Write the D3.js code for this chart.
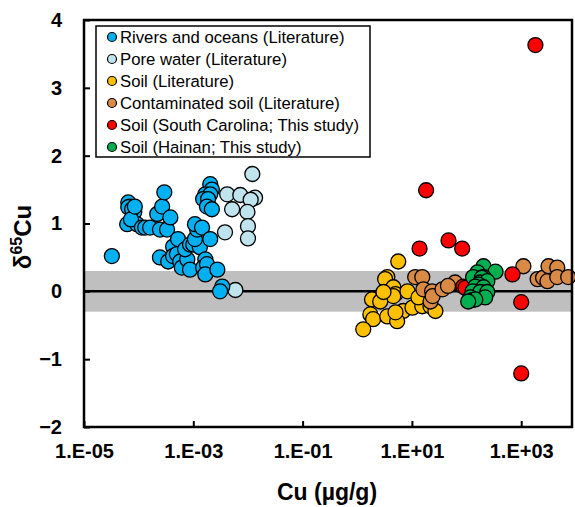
<!DOCTYPE html>
<html>
<head>
<meta charset="utf-8">
<script src="https://cdnjs.cloudflare.com/ajax/libs/d3/7.8.5/d3.min.js"></script>
<style>
  body { margin: 0; background: #fff; font-family: Arial, "Liberation Sans", sans-serif; }
  .tick text { font: bold 20px Arial, "Liberation Sans", sans-serif; fill: #000; }
  .legend text { font: 16.7px Arial, "Liberation Sans", sans-serif; }
</style>
</head>
<body>
<script>
// log10(Cu) and d65Cu
var poreWater = [[-1.92,1.73],[-2.38,1.43],[-2.14,1.42],[-1.87,1.38],[-1.95,1.35],[-2.29,1.21],
  [-2.01,1.17],[-2.00,0.96],[-2.42,0.87],[-2.00,0.78],[-2.23,0.02]];
var rivers = [[-4.49,0.52],[-4.19,1.31],[-4.16,1.25],[-4.08,1.17],[-4.19,1.24],[-4.12,1.21],[-4.21,0.99],
  [-4.03,0.99],[-4.14,1.06],[-4.07,1.25],[-3.94,0.94],[-3.88,0.94],[-3.79,0.94],[-3.66,1.14],[-3.57,1.25],
  [-3.53,1.46],[-3.61,0.91],[-3.48,0.91],[-3.42,1.09],[-3.61,0.50],[-3.46,0.44],[-3.37,0.66],[-3.37,0.52],
  [-3.30,0.55],[-3.28,0.77],[-3.24,0.44],[-3.21,0.35],[-3.11,0.47],[-3.15,0.62],[-3.06,0.69],[-3.06,0.32],
  [-3.00,0.69],[-2.88,0.65],[-2.97,0.77],[-2.93,0.91],[-2.97,0.99],[-2.84,0.94],[-2.69,0.77],[-2.78,0.47],
  [-2.82,0.35],[-2.75,0.40],[-2.78,0.25],[-2.56,0.32],[-2.47,0.07],[-2.51,0.00],[-2.69,1.58],[-2.66,1.50],
  [-2.78,1.43],[-2.69,1.43],[-2.82,1.36],[-2.73,1.36],[-2.75,1.25],[-2.66,1.21]];
var soilLit = [[0.75,0.44],[0.55,0.21],[0.51,0.18],[0.66,0.06],[0.27,-0.12],[0.48,-0.07],[0.70,-0.04],
  [0.66,-0.07],[0.92,0.00],[0.84,-0.29],[1.01,-0.24],[1.19,-0.22],[1.12,-0.09],[1.34,-0.22],[1.43,-0.29],
  [0.24,-0.34],[0.29,-0.41],[0.55,-0.37],[0.73,-0.44],[0.11,-0.56],[0.42,-0.15],[0.48,-0.01],[0.70,-0.31]];
var contaminated = [[1.06,0.21],[1.19,0.21],[1.21,0.03],[1.37,0.00],[1.34,-0.15],[1.38,-0.07],[1.56,0.03],
  [1.79,0.13],[1.66,0.08],[3.04,0.37],[3.30,0.18],[3.40,0.20],[3.48,0.15],[3.50,0.37],[3.66,0.35],[3.66,0.21],[3.86,0.21]];
var southCarolina = [[3.26,3.63],[1.26,1.49],[1.14,0.63],[1.67,0.75],[1.92,0.63],[1.94,0.07],[1.98,0.05],
  [2.84,0.25],[3.00,-0.16],[3.00,-1.21]];
var hainan = [[2.31,0.37],[2.53,0.29],[2.20,0.28],[2.12,0.21],[2.31,0.21],[2.28,0.20],[2.25,0.13],[2.38,0.15],
  [2.22,0.10],[2.16,0.07],[2.31,0.06],[2.11,0.00],[2.25,-0.01],[2.38,-0.01],[2.07,-0.09],[2.34,-0.09],
  [2.10,-0.13],[2.16,-0.12],[2.03,-0.15]];

var legendNames = ["Rivers and oceans (Literature)", "Pore water (Literature)", "Soil (Literature)",
  "Contaminated soil (Literature)", "Soil (South Carolina; This study)", "Soil (Hainan; This study)"];
var legendColors = ["#00b0f0", "#c0e4ee", "#ffc000", "#d98b45", "#ff0000", "#00b050"];
var xTicks = [1e-5, 1e-3, 1e-1, 1e1, 1e3];
var yTicks = [-2, -1, 0, 1, 2, 3, 4];

var W = 575, H = 507;
var margin = {top: 20, right: 3, bottom: 80, left: 84};
var width = W - margin.left - margin.right,
    height = H - margin.top - margin.bottom;

var svg = d3.select("body").append("svg").attr("width", W).attr("height", H);
var g = svg.append("g").attr("transform", "translate(" + margin.left + "," + margin.top + ")");

var x = d3.scaleLog().domain([1e-5, 8500]).range([0, width]);
var y = d3.scaleLinear().domain([-2, 4]).range([height, 0]);

// grey band +/-0.3 and zero line
g.append("rect").attr("x", 0).attr("width", width)
  .attr("y", y(0.3)).attr("height", y(-0.3) - y(0.3)).attr("fill", "#bfbfbf");
g.append("line").attr("x1", 0).attr("x2", width).attr("y1", y(0)).attr("y2", y(0))
  .attr("stroke", "#000").attr("stroke-width", 2.5);

function fmt(v) {
  var e = Math.round(Math.log10(v));
  return "1.E" + (e < 0 ? "-" : "+") + String(Math.abs(e)).padStart(2, "0");
}

var xAxis = d3.axisBottom(x).tickValues(xTicks).tickFormat(fmt).tickSizeInner(-6).tickSizeOuter(0).tickPadding(17);
var yAxis = d3.axisLeft(y).tickValues(yTicks).tickFormat(d3.format("d")).tickSizeInner(-6).tickSizeOuter(0).tickPadding(22);

g.append("g").attr("transform", "translate(0," + height + ")").call(xAxis)
  .call(a => a.select(".domain").remove());
g.append("g").call(yAxis).call(a => a.select(".domain").remove());
g.selectAll(".tick line").attr("stroke", "#000").attr("stroke-width", 2);

// series, drawn in this order
var series = [
  {data: poreWater, color: legendColors[1]},
  {data: rivers, color: legendColors[0]},
  {data: soilLit, color: legendColors[2]},
  {data: contaminated, color: legendColors[3]},
  {data: southCarolina, color: legendColors[4]},
  {data: hainan, color: legendColors[5]}
];
series.forEach(function(s) {
  g.append("g").selectAll("circle").data(s.data).enter().append("circle")
    .attr("cx", d => x(Math.pow(10, d[0])))
    .attr("cy", d => y(d[1]))
    .attr("r", 7.5)
    .attr("fill", s.color)
    .attr("stroke", "#000")
    .attr("stroke-width", 1.3);
});

// frame
g.append("rect").attr("width", width).attr("height", height)
  .attr("fill", "none").attr("stroke", "#000").attr("stroke-width", 2.5);

// legend
var lg = svg.append("g").attr("class", "legend");
lg.append("rect").attr("x", 96).attr("y", 26).attr("width", 274).attr("height", 131)
  .attr("fill", "#fff").attr("stroke", "#000").attr("stroke-width", 1.5);
legendNames.forEach(function(n, i) {
  var ly = 37 + i * 22;
  lg.append("circle").attr("cx", 112).attr("cy", ly).attr("r", 4.5)
    .attr("fill", legendColors[i]).attr("stroke", "#000").attr("stroke-width", 1.2);
  lg.append("text").attr("x", 120).attr("y", ly).attr("dy", "0.36em").text(n);
});

// axis titles
svg.append("text").attr("x", 327).attr("y", 500)
  .attr("text-anchor", "middle").style("font", "bold 23px Arial, 'Liberation Sans', sans-serif")
  .text("Cu (µg/g)");
var yt = svg.append("text").attr("transform", "translate(31,237) rotate(-90)")
  .attr("text-anchor", "middle").style("font", "bold 24px Arial, 'Liberation Sans', sans-serif");
yt.append("tspan").text("δ");
yt.append("tspan").attr("dy", -9).style("font-size", "16px").text("65");
yt.append("tspan").attr("dy", 9).text("Cu");
</script>
</body>
</html>
